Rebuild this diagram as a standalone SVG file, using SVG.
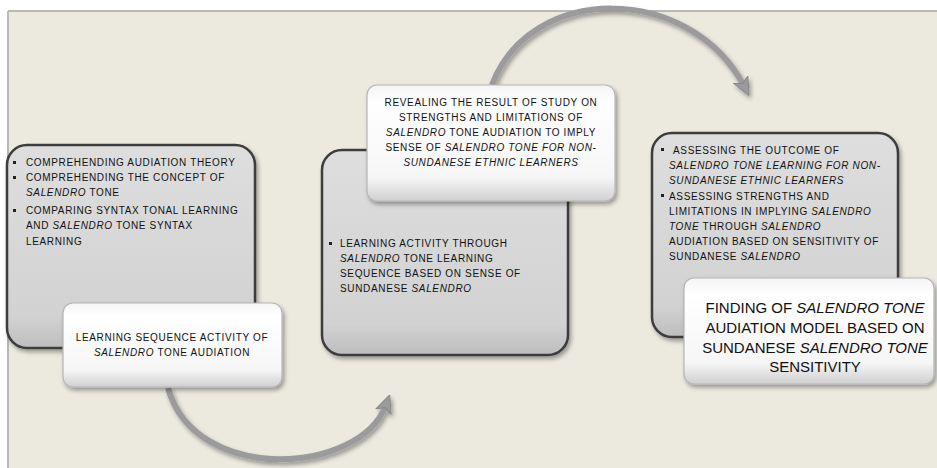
<svg xmlns="http://www.w3.org/2000/svg" width="937" height="468" viewBox="0 0 937 468">
<defs>
<linearGradient id="gGray" x1="0" y1="0" x2="0" y2="1">
<stop offset="0" stop-color="#dedede"/>
<stop offset="0.85" stop-color="#d2d2d2"/>
<stop offset="1" stop-color="#bdbdbd"/>
</linearGradient>
<linearGradient id="gWhite" x1="0" y1="0" x2="0" y2="1">
<stop offset="0" stop-color="#f4f4f4"/>
<stop offset="0.15" stop-color="#ffffff"/>
<stop offset="0.8" stop-color="#f6f6f6"/>
<stop offset="1" stop-color="#cfcfcf"/>
</linearGradient>
<filter id="sh" x="-10%" y="-10%" width="130%" height="130%">
<feDropShadow dx="2" dy="3" stdDeviation="2" flood-color="#000" flood-opacity="0.35"/>
</filter>
<marker id="ah" viewBox="0 0 20 20" refX="8" refY="10" markerWidth="18" markerHeight="18" markerUnits="userSpaceOnUse" orient="auto">
<path d="M0,1 L20,10 L0,19 L5,10 Z" fill="#9b9b9b" stroke="#858585" stroke-width="1"/>
</marker>
</defs>
<style>
.bg{fill:#ecE9df}
.frame{stroke:#b8b8b8;stroke-width:2}
.gray{fill:url(#gGray);stroke:#3c3c3c;stroke-width:2.5;filter:url(#sh)}
.white{fill:url(#gWhite);stroke:#b5b5b5;stroke-width:1.2;filter:url(#sh)}
.arrow{fill:none;stroke:#9b9b9b;stroke-width:6;stroke-linecap:butt;filter:url(#sh)}
.t{font-family:"Liberation Sans",Arial,sans-serif;font-size:10px;letter-spacing:0.65px;fill:#111}
.tc{text-anchor:middle}
.big{font-family:"Liberation Sans",Arial,sans-serif;font-size:15px;fill:#111;text-anchor:middle}
.i{font-style:italic}
.bul{fill:#222}
</style>
<rect class="bg" x="8" y="11" width="929" height="457"/>
<line class="frame" x1="8" y1="11" x2="937" y2="11"/>
<line class="frame" x1="8" y1="11" x2="8" y2="468"/>

<g id="connectors">
<path class="arrow" d="M168,388 C195,485 360,475 386,405" marker-end="url(#ah)"/>
<path class="arrow" d="M492,85 C530,-17 690,-17 744,86" marker-end="url(#ah)"/>
</g>

<g id="step1-tasks">
<rect class="gray" x="7" y="145" width="248" height="203" rx="20"/>
<rect class="bul" x="13" y="161" width="3" height="3"/>
<rect class="bul" x="13" y="176" width="3" height="3"/>
<rect class="bul" x="13" y="209" width="3" height="3"/>
<text class="t" x="26" y="166">COMPREHENDING AUDIATION THEORY</text>
<text class="t" x="26" y="181">COMPREHENDING THE CONCEPT OF</text>
<text class="t" x="26" y="196"><tspan class="i">SALENDRO</tspan> TONE</text>
<text class="t" x="26" y="214">COMPARING SYNTAX TONAL LEARNING</text>
<text class="t" x="26" y="229">AND <tspan class="i">SALENDRO</tspan> TONE SYNTAX</text>
<text class="t" x="26" y="245">LEARNING</text>
</g>

<g id="step1-title">
<rect class="white" x="63" y="303" width="219" height="84" rx="10"/>
<text class="t tc" x="172" y="341">LEARNING SEQUENCE ACTIVITY OF</text>
<text class="t tc" x="172" y="356"><tspan class="i">SALENDRO</tspan> TONE AUDIATION</text>
</g>

<g id="step2-tasks">
<rect class="gray" x="322" y="150" width="246" height="205" rx="20"/>
<rect class="bul" x="329" y="242" width="3" height="3"/>
<text class="t" x="340" y="247">LEARNING ACTIVITY THROUGH</text>
<text class="t" x="340" y="262"><tspan class="i">SALENDRO</tspan> TONE LEARNING</text>
<text class="t" x="340" y="277">SEQUENCE BASED ON SENSE OF</text>
<text class="t" x="340" y="292">SUNDANESE <tspan class="i">SALENDRO</tspan></text>
</g>

<g id="step2-title">
<rect class="white" x="367" y="85" width="248" height="116" rx="10"/>
<text class="t tc" x="491" y="106">REVEALING THE RESULT OF STUDY ON</text>
<text class="t tc" x="491" y="121">STRENGTHS AND LIMITATIONS OF</text>
<text class="t tc" x="491" y="136"><tspan class="i">SALENDRO</tspan> TONE AUDIATION TO IMPLY</text>
<text class="t tc" x="491" y="151">SENSE OF <tspan class="i">SALENDRO TONE FOR NON-</tspan></text>
<text class="t tc i" x="491" y="166">SUNDANESE ETHNIC LEARNERS</text>
</g>

<g id="step3-tasks">
<rect class="gray" x="652" y="133" width="246" height="204" rx="20"/>
<rect class="bul" x="661" y="148" width="3" height="3"/>
<rect class="bul" x="661" y="194" width="3" height="3"/>
<text class="t" x="673" y="154">ASSESSING THE OUTCOME OF</text>
<text class="t i" x="669" y="169">SALENDRO TONE LEARNING FOR NON-</text>
<text class="t i" x="669" y="184">SUNDANESE ETHNIC LEARNERS</text>
<text class="t" x="669" y="200">ASSESSING STRENGTHS AND</text>
<text class="t" x="669" y="215">LIMITATIONS IN IMPLYING <tspan class="i">SALENDRO</tspan></text>
<text class="t" x="669" y="230"><tspan class="i">TONE</tspan> THROUGH <tspan class="i">SALENDRO</tspan></text>
<text class="t" x="669" y="245">AUDIATION BASED ON SENSITIVITY OF</text>
<text class="t" x="669" y="260">SUNDANESE <tspan class="i">SALENDRO</tspan></text>
</g>

<g id="step3-title">
<rect class="white" x="684" y="278" width="250" height="106" rx="10"/>
<text class="big" x="815" y="313">FINDING OF <tspan class="i">SALENDRO TONE</tspan></text>
<text class="big" x="815" y="333">AUDIATION MODEL BASED ON</text>
<text class="big" x="815" y="353">SUNDANESE <tspan class="i">SALENDRO TONE</tspan></text>
<text class="big" x="815" y="372">SENSITIVITY</text>
</g>
</svg>
